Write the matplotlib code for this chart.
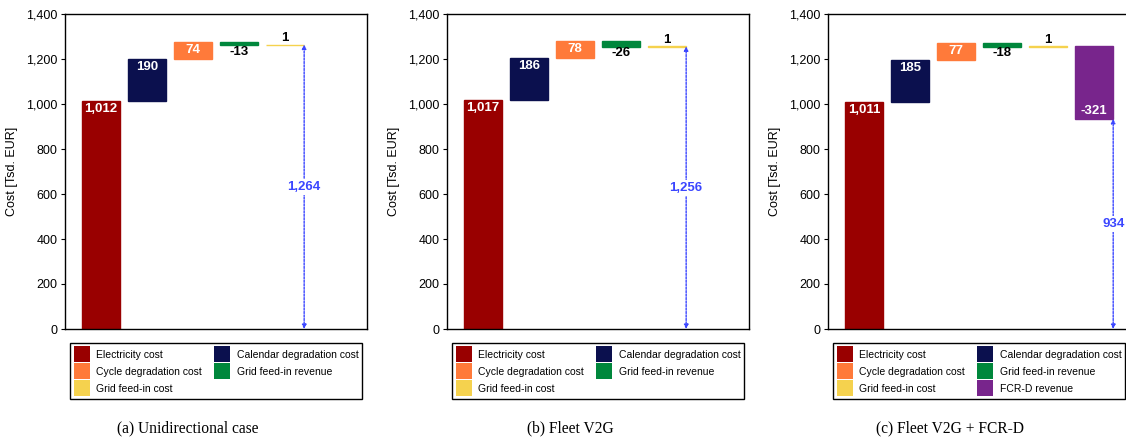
import matplotlib
matplotlib.use("Agg")
import matplotlib.pyplot as plt
from matplotlib.patches import Patch

plt.rcParams['font.family'] = ['Liberation Sans', 'DejaVu Sans']

# Cost components per scenario [Tsd. EUR]
components = ["Electricity cost", "Calendar degradation cost", "Cycle degradation cost",
              "Grid feed-in revenue", "Grid feed-in cost", "FCR-D revenue"]
colors = ["#990000", "#0b104e", "#ff7a3a", "#00873c", "#f5d24e", "#78258c"]

values_unidirectional = [1012, 190, 74, -13, 1]
values_fleet_v2g = [1017, 186, 78, -26, 1]
values_fleet_v2g_fcrd = [1011, 185, 77, -18, 1, -321]

totals = [1264, 1256, 934]
captions = ["(a) Unidirectional case", "(b) Fleet V2G", "(c) Fleet V2G + FCR-D"]
scenarios = [values_unidirectional, values_fleet_v2g, values_fleet_v2g_fcrd]

W, H = 1126, 443
fig = plt.figure(figsize=(W / 100, H / 100), dpi=100)

axes_left_px = [65, 447, 828]
caption_x_px = [188, 570, 950]
ax_w, ax_top, ax_bot = 302, 14, 329
bar_w = 0.83
arrow_color = "#3b46ff"

for k, vals in enumerate(scenarios):
    ax = fig.add_axes([axes_left_px[k] / W, 1 - ax_bot / H, ax_w / W, (ax_bot - ax_top) / H])
    base = 0
    for i, v in enumerate(vals):
        bottom = base if v >= 0 else base + v
        ax.bar(i, abs(v), bottom=bottom, width=bar_w, color=colors[i],
               edgecolor=colors[i], linewidth=1.0, zorder=2)
        end = base + v
        txt = f"{v:,}"
        if abs(v) >= 50:
            if v > 0:
                ax.annotate(txt, (i, end), xytext=(0, -1.5), textcoords="offset points",
                            ha="center", va="top", color="white", fontsize=9.5,
                            fontweight="bold", zorder=4)
            else:
                ax.annotate(txt, (i, end), xytext=(0, 1.5), textcoords="offset points",
                            ha="center", va="bottom", color="white", fontsize=9.5,
                            fontweight="bold", zorder=4)
        else:
            if v > 0:
                ax.annotate(txt, (i, max(base, end)), xytext=(0, 0.5), textcoords="offset points",
                            ha="center", va="bottom", color="black", fontsize=9.5,
                            fontweight="bold", zorder=4)
            else:
                ax.annotate(txt, (i, min(base, end)), xytext=(0, -0.5), textcoords="offset points",
                            ha="center", va="top", color="black", fontsize=9.5,
                            fontweight="bold", zorder=4)
        base = end

    # total arrow at right edge of last bar
    xa = len(vals) - 1 + bar_w / 2
    tot = totals[k]
    ax.annotate("", xy=(xa, tot), xytext=(xa, 0),
                arrowprops=dict(arrowstyle="<|-|>", color=arrow_color, lw=1.0,
                                linestyle=(0, (1.5, 1.0)), mutation_scale=6,
                                shrinkA=0, shrinkB=0), zorder=3)
    ax.text(xa, tot / 2, f"{tot:,}", ha="center", va="center", color=arrow_color,
            fontsize=9.5, fontweight="bold", zorder=5,
            bbox=dict(boxstyle="square,pad=0.15", fc="white", ec="none"))

    ax.set_xlim(-0.78, 5.78)
    ax.set_ylim(0, 1400)
    ax.set_yticks(range(0, 1401, 200))
    ax.set_yticklabels([f"{t:,}" for t in range(0, 1401, 200)])
    ax.set_xticks([])
    ax.tick_params(axis="y", length=3, width=0.8, pad=2.5, labelsize=9)
    for s in ax.spines.values():
        s.set_linewidth(1.0)
        s.set_color("black")
    ax.set_ylabel("Cost [Tsd. EUR]", fontsize=9, labelpad=6)

    handles = [Patch(facecolor=colors[i], edgecolor="none", label=components[i])
               for i in range(len(vals))]
    # two columns, filled column by column
    order = [0, 2, 4, 1, 3, 5] if len(vals) == 6 else [0, 2, 4, 1, 3]
    handles = [handles[i] for i in order]
    leg = ax.legend(handles=handles, loc="upper center", bbox_to_anchor=(0.5, -0.045),
                    ncol=2, fontsize=7.5, frameon=True, fancybox=False, framealpha=1,
                    edgecolor="black", handlelength=1.55, handleheight=2.0,
                    labelspacing=0.08, columnspacing=1.2, handletextpad=0.6,
                    borderpad=0.3, borderaxespad=0)
    leg.get_frame().set_linewidth(1.0)

    fig.text(caption_x_px[k] / W, 1 - 428 / H, captions[k], ha="center", va="center",
             fontsize=11.2, family=["Liberation Serif", "DejaVu Serif"])

fig.savefig("out.png", dpi=100)
